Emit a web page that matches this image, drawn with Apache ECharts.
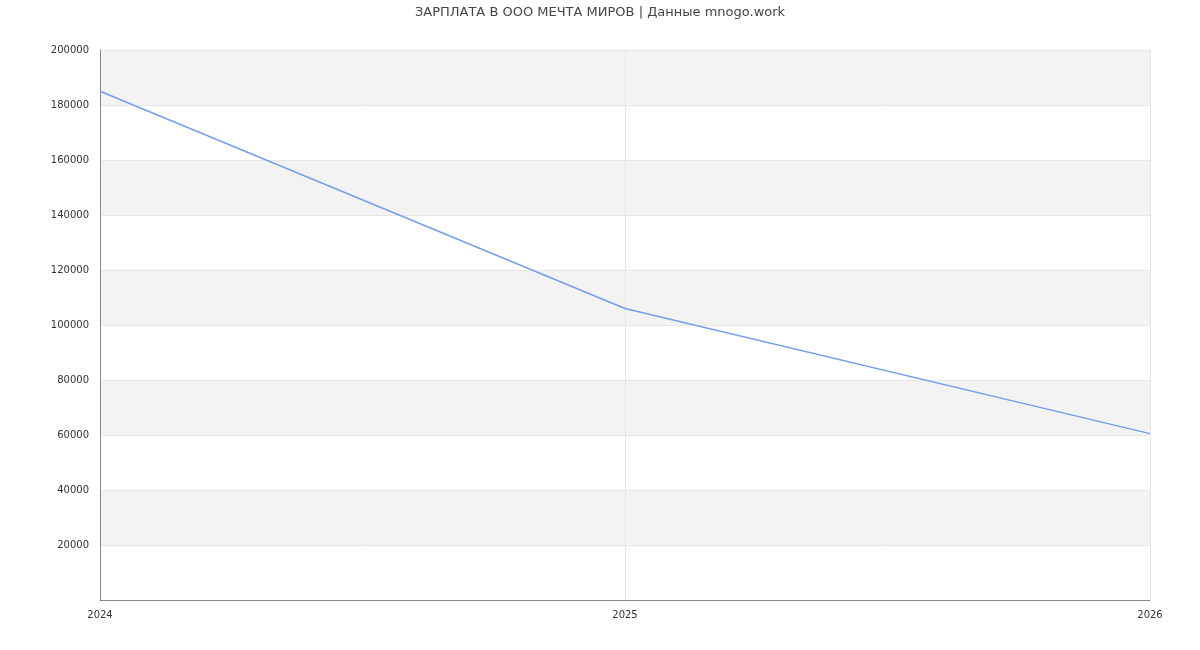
<!doctype html>
<html>
<head>
<meta charset="utf-8"/>
<script src="https://cdn.jsdelivr.net/npm/echarts@6/dist/echarts.min.js"></script>
<style>
*{margin:0;padding:0;}
#main{width:1200px;height:650px;background:#fff;}
</style>
</head>
<body>
<div id="main"></div>
<script>
var years = ['2024', '2025', '2026'];
var salary = [185000, 106000, 60500];

var chart = echarts.init(document.getElementById('main'));
chart.setOption({
  animation: false,
  textStyle: {fontFamily: 'DejaVu Sans'},
  title: {
    text: 'ЗАРПЛАТА В ООО МЕЧТА МИРОВ | Данные mnogo.work',
    left: 'center', top: 1,
    textStyle: {fontSize: 13, fontWeight: 'normal', color: '#444', fontFamily: 'DejaVu Sans'}
  },
  grid: {left: 100, right: 50, top: 50, bottom: 50},
  xAxis: {
    type: 'category',
    data: years,
    boundaryGap: false,
    axisLine: {lineStyle: {color: '#888'}},
    axisTick: {show: false},
    axisLabel: {color: '#333', fontSize: 10, margin: 10},
    splitLine: {show: true, lineStyle: {color: '#e6e6e6'}}
  },
  yAxis: {
    type: 'value',
    min: 0, max: 200000, interval: 20000,
    axisLine: {show: true, lineStyle: {color: '#888'}},
    axisTick: {show: false},
    axisLabel: {color: '#333', fontSize: 10, margin: 11,
      formatter: function (v) { return v === 0 ? '' : v; }},
    splitLine: {lineStyle: {color: '#e6e6e6'}},
    splitArea: {show: true, areaStyle: {color: ['#ffffff', '#f3f3f3']}}
  },
  series: [{
    type: 'line',
    data: salary,
    showSymbol: false,
    lineStyle: {color: '#759ef0', width: 1.5},
    itemStyle: {color: '#759ef0'}
  }]
});
</script>
</body>
</html>
